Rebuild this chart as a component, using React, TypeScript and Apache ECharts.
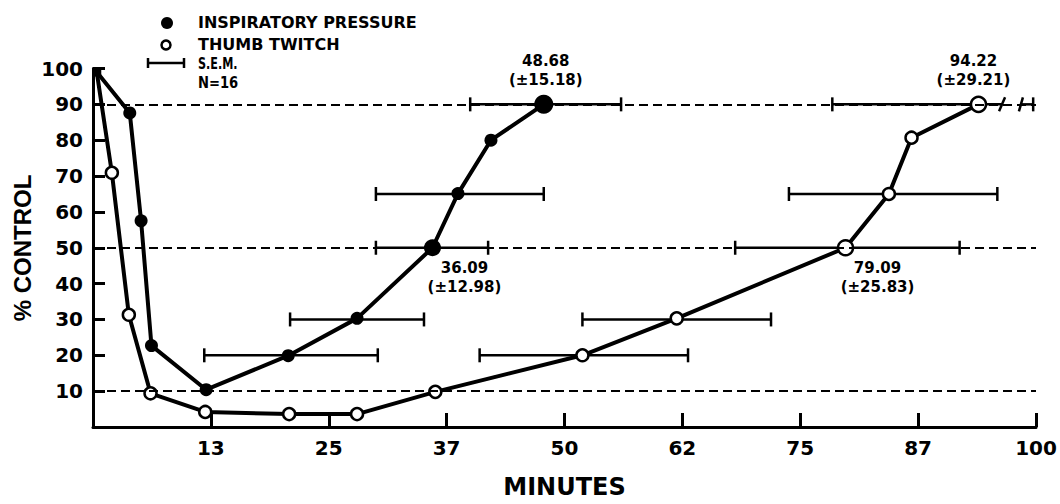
import React, { useEffect, useRef } from "react";
import * as echarts from "echarts";

// ---- axis ticks ----
const xTickValues = [12.5, 25, 37.5, 50, 62.5, 75, 87.5, 100];
const xTickLabels = ["13", "25", "37", "50", "62", "75", "87", "100"];

// ---- series: inspiratory pressure (filled) ----
const inspMinutes = [0.4, 3.9, 5.1, 6.2, 12.0, 20.7, 28.0, 36.0, 38.7, 42.2, 47.8];
const inspControl = [99, 87.6, 57.5, 22.7, 10.4, 19.9, 30.3, 50, 65.1, 80, 90];

// ---- series: thumb twitch (open) ----
const twitchMinutes = [0.4, 2.0, 3.8, 6.1, 11.9, 20.8, 28.0, 36.3, 51.9, 61.9, 79.8, 84.4, 86.8, 93.9];
const twitchControl = [99, 70.9, 31.3, 9.4, 4.2, 3.6, 3.6, 9.8, 20, 30.3, 50, 65, 80.7, 90];

// ---- S.E.M. bars ----
const inspSemLevel = [20, 30, 50, 65, 90];
const inspSemLow = [11.8, 20.9, 30.0, 30.0, 40.0];
const inspSemHigh = [30.2, 35.1, 41.9, 47.8, 56.0];
const twitchSemLevel = [20, 30, 50, 65, 90, 90];
const twitchSemLow = [41.0, 51.9, 68.1, 73.8, 78.4, 98.4];
const twitchSemHigh = [63.1, 71.9, 91.9, 95.9, 96.4, 99.7];
const twitchSemBreak = [0, 0, 0, 0, 1, 2]; // 1: broken right end, 2: broken left end

// ---- reference levels ----
const refLevels = [10, 50, 90];

// ---- annotations ----
const inspAnnotIndex = [7, 10];
const inspAnnotValue = ["36.09", "48.68"];
const inspAnnotSem = ["(±12.98)", "(±15.18)"];
const twitchAnnotIndex = [10, 13];
const twitchAnnotValue = ["79.09", "94.22"];
const twitchAnnotSem = ["(±25.83)", "(±29.21)"];

const FONT = "DejaVu Sans";

const annotLabelStyle = {
  show: true,
  fontFamily: FONT,
  fontWeight: "bold" as const,
  fontSize: 15,
  lineHeight: 19,
  color: "#000",
  align: "center" as const,
};

function renderSem(_params: any, api: any) {
  const y = api.value(0);
  const lo = api.value(1);
  const hi = api.value(2);
  const brk = api.value(3);
  const a = api.coord([lo, y]);
  const b = api.coord([hi, y]);
  const h = 7;
  const st = { stroke: "#000", lineWidth: 2.5 };
  const leftCap =
    brk === 2
      ? { x1: a[0] - 2, y1: a[1] + h, x2: a[0] + 2, y2: a[1] - h }
      : { x1: a[0], y1: a[1] - h, x2: a[0], y2: a[1] + h };
  const rightCap =
    brk === 1
      ? { x1: b[0] - 3, y1: b[1] + h, x2: b[0] + 3, y2: b[1] - h }
      : { x1: b[0], y1: b[1] - h, x2: b[0], y2: b[1] + h };
  return {
    type: "group",
    children: [
      { type: "line", shape: { x1: a[0], y1: a[1], x2: b[0], y2: b[1] }, style: st },
      { type: "line", shape: leftCap, style: st },
      { type: "line", shape: rightCap, style: st },
    ],
  };
}

export default function App() {
  const ref = useRef<HTMLDivElement>(null);

  useEffect(() => {
    document.body.style.margin = "0";
    if (!ref.current) return;
    const chart = echarts.init(ref.current, undefined, { renderer: "svg" });

    const inspData = inspMinutes.map((x, i) => {
      const item: any = { value: [x, inspControl[i]] };
      if (i === 0) {
        item.symbol = "rect";
        item.symbolSize = 9;
      }
      if (i === 7) item.symbolSize = 17;
      if (i === 10) item.symbolSize = 19;
      const k = inspAnnotIndex.indexOf(i);
      if (k >= 0) {
        item.label =
          k === 0
            ? { ...annotLabelStyle, position: "bottom", offset: [32, -3], formatter: inspAnnotValue[k] + "\n" + inspAnnotSem[k] }
            : { ...annotLabelStyle, position: "top", distance: 5, offset: [2, 0], formatter: inspAnnotValue[k] + "\n" + inspAnnotSem[k] };
      }
      return item;
    });

    const twitchData = twitchMinutes.map((x, i) => {
      const item: any = { value: [x, twitchControl[i]] };
      if (i === 0) item.symbol = "none";
      if (i === 10 || i === 13) item.symbolSize = 15;
      const k = twitchAnnotIndex.indexOf(i);
      if (k >= 0) {
        item.label =
          k === 0
            ? { ...annotLabelStyle, position: "bottom", offset: [32, -3], formatter: twitchAnnotValue[k] + "\n" + twitchAnnotSem[k] }
            : { ...annotLabelStyle, position: "top", distance: 6, offset: [-5, 0], formatter: twitchAnnotValue[k] + "\n" + twitchAnnotSem[k] };
      }
      return item;
    });

    const option: any = {
      animation: false,
      backgroundColor: "#fff",
      grid: { left: 93, right: 24, top: 68.5, bottom: 60.5, containLabel: false },
      xAxis: {
        type: "value",
        min: 0,
        max: 100,
        interval: 12.5,
        name: "MINUTES",
        nameLocation: "middle",
        nameGap: 48,
        nameTextStyle: { fontFamily: FONT, fontWeight: "bold", fontSize: 24, color: "#000" },
        axisLine: { show: true, lineStyle: { color: "#000", width: 3 } },
        axisTick: { show: true, inside: true, length: 14, lineStyle: { color: "#000", width: 3 } },
        splitLine: { show: false },
        axisLabel: {
          margin: 11,
          fontFamily: FONT,
          fontWeight: "bold",
          fontSize: 20,
          color: "#000",
          formatter: (v: number) => {
            const k = xTickValues.indexOf(v);
            return k >= 0 ? xTickLabels[k] : "";
          },
        },
      },
      yAxis: {
        type: "value",
        min: 0,
        max: 100,
        interval: 10,
        axisLine: { show: true, lineStyle: { color: "#000", width: 3 } },
        axisTick: { show: true, inside: true, length: 12, lineStyle: { color: "#000", width: 3 } },
        splitLine: { show: false },
        axisLabel: {
          margin: 10,
          fontFamily: FONT,
          fontWeight: "bold",
          fontSize: 20,
          color: "#000",
          formatter: (v: number) => (v === 0 ? "" : String(v)),
        },
      },
      graphic: [
        {
          type: "text",
          x: 22,
          y: 248,
          rotation: Math.PI / 2,
          style: {
            text: "% CONTROL",
            fontFamily: "Liberation Sans",
            fontWeight: "bold",
            fontSize: 24,
            fill: "#000",
            align: "center",
            verticalAlign: "middle",
          },
        },
        { type: "circle", shape: { cx: 167, cy: 23, r: 6 }, style: { fill: "#000" } },
        { type: "circle", shape: { cx: 166, cy: 45, r: 4.5 }, style: { fill: "#fff", stroke: "#000", lineWidth: 2.5 } },
        { type: "line", shape: { x1: 148, y1: 63, x2: 184, y2: 63 }, style: { stroke: "#000", lineWidth: 2.5 } },
        { type: "line", shape: { x1: 148, y1: 58, x2: 148, y2: 68 }, style: { stroke: "#000", lineWidth: 2.5 } },
        { type: "line", shape: { x1: 184, y1: 58, x2: 184, y2: 68 }, style: { stroke: "#000", lineWidth: 2.5 } },
        {
          type: "text",
          x: 198,
          y: 22,
          style: { text: "INSPIRATORY PRESSURE", fontFamily: FONT, fontWeight: "bold", fontSize: 16, fill: "#000", verticalAlign: "middle" },
        },
        {
          type: "text",
          x: 198,
          y: 44,
          style: { text: "THUMB TWITCH", fontFamily: FONT, fontWeight: "bold", fontSize: 16, fill: "#000", verticalAlign: "middle" },
        },
        {
          type: "text",
          x: 198,
          y: 63,
          scaleX: 0.7,
          style: { text: "S.E.M.", fontFamily: FONT, fontWeight: "bold", fontSize: 16, fill: "#000", verticalAlign: "middle" },
        },
        {
          type: "text",
          x: 198,
          y: 82,
          scaleX: 0.82,
          style: { text: "N=16", fontFamily: FONT, fontWeight: "bold", fontSize: 16, fill: "#000", verticalAlign: "middle" },
        },
      ],
      series: [
        {
          type: "custom",
          name: "inspSem",
          renderItem: renderSem,
          encode: { x: [1, 2], y: 0 },
          clip: false,
          z: 2,
          data: inspSemLevel.map((y, i) => [y, inspSemLow[i], inspSemHigh[i], 0]),
        },
        {
          type: "custom",
          name: "twitchSem",
          renderItem: renderSem,
          encode: { x: [1, 2], y: 0 },
          clip: false,
          z: 2,
          data: twitchSemLevel.map((y, i) => [y, twitchSemLow[i], twitchSemHigh[i], twitchSemBreak[i]]),
        },
        {
          type: "line",
          name: "INSPIRATORY PRESSURE",
          data: inspData,
          symbol: "circle",
          symbolSize: 13,
          showSymbol: true,
          z: 3,
          lineStyle: { color: "#000", width: 4 },
          itemStyle: { color: "#000" },
          label: { show: false },
          markLine: {
            silent: true,
            symbol: ["none", "none"],
            label: { show: false },
            lineStyle: { color: "#000", width: 2, type: [9, 5] },
            data: refLevels.map((v) => [{ coord: [0, v] }, { coord: [100, v] }]),
          },
        },
        {
          type: "line",
          name: "THUMB TWITCH",
          data: twitchData,
          symbol: "circle",
          symbolSize: 12,
          showSymbol: true,
          z: 4,
          lineStyle: { color: "#000", width: 4 },
          itemStyle: { color: "#fff", borderColor: "#000", borderWidth: 2.5 },
          label: { show: false },
        },
      ],
    };

    chart.setOption(option);
    return () => chart.dispose();
  }, []);

  return <div ref={ref} style={{ width: 1060, height: 504 }} />;
}
